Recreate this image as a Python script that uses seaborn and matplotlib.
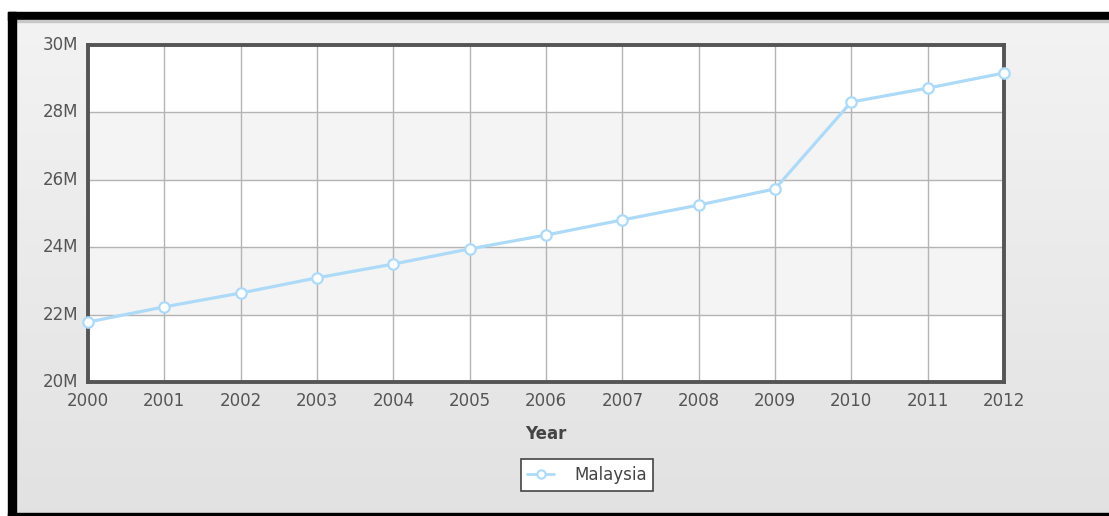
import numpy as np
import pandas as pd
import matplotlib
matplotlib.use("Agg")
import matplotlib.pyplot as plt
import seaborn as sns
from matplotlib.patches import Rectangle
from matplotlib.lines import Line2D

years = [2000, 2001, 2002, 2003, 2004, 2005, 2006, 2007, 2008, 2009, 2010, 2011, 2012]
population = [21.78e6, 22.23e6, 22.64e6, 23.09e6, 23.50e6, 23.95e6, 24.36e6,
              24.81e6, 25.25e6, 25.73e6, 28.31e6, 28.72e6, 29.17e6]
series_name = "Malaysia"
y_ticks = [20e6, 22e6, 24e6, 26e6, 28e6, 30e6]
y_tick_labels = ["20M", "22M", "24M", "26M", "28M", "30M"]

df = pd.DataFrame({"Year": years, "Population": population, "Country": series_name})

sns.set_theme(style="white")
plt.rcParams['font.family'] = ['DejaVu Sans']

W, H = 1109, 516
fig = plt.figure(figsize=(W / 100, H / 100), dpi=100)

# background gradient
bg = fig.add_axes([0, 0, 1, 1], zorder=-10)
grad = np.linspace(0.955, 0.885, 256).reshape(-1, 1)
bg.imshow(np.dstack([grad, grad, grad]), aspect="auto", extent=[0, 1, 0, 1],
          origin="upper")
bg.set_xlim(0, 1); bg.set_ylim(0, 1); bg.axis("off")

def px_rect(x0, y0, x1, y1, color):
    fig.patches.append(Rectangle((x0 / W, 1 - y1 / H), (x1 - x0) / W, (y1 - y0) / H,
                                 transform=fig.transFigure, color=color, zorder=-5))

px_rect(0, 0, W, 12, "white")
px_rect(0, 0, 8, H, "white")
px_rect(8, 12, W, 20, "black")
px_rect(16, 20, W, 21.5, "#c8c8c8")
px_rect(8, 12, 16, H, "black")
px_rect(8, 513, W, H, "black")

ax = fig.add_axes([88 / W, 1 - 382 / H, (1004 - 88) / W, (382 - 45) / H])
ax.set_facecolor("white")

# alternating bands
for i in range(len(y_ticks) - 1):
    if i % 2 == 1:
        ax.axhspan(y_ticks[i], y_ticks[i + 1], color="#f4f4f4", zorder=0, lw=0)

sns.lineplot(data=df, x="Year", y="Population", ax=ax, color="#addaf8", lw=2.3,
             marker="o", markersize=7.5, markerfacecolor="white",
             markeredgecolor="#addaf8", markeredgewidth=1.6, clip_on=False, zorder=5,
             legend=False)

ax.set_xlim(years[0], years[-1])
ax.set_ylim(y_ticks[0], y_ticks[-1])
ax.set_xticks(years)
ax.set_xticklabels([str(y) for y in years])
ax.set_yticks(y_ticks)
ax.set_yticklabels(y_tick_labels)
ax.grid(True, color="#b4b4b4", lw=1.0, zorder=1)
ax.set_axisbelow(True)
for s in ax.spines.values():
    s.set_visible(True)
    s.set_color("#555555")
    s.set_linewidth(2.8)
ax.tick_params(axis="both", length=0, labelsize=12, labelcolor="#555555")
ax.tick_params(axis="x", pad=7)
ax.tick_params(axis="y", pad=7)
for lbl in ax.get_yticklabels():
    lbl.set_verticalalignment("center")

ax.set_ylabel("")
ax.set_xlabel("Year", fontsize=12, fontweight="bold", color="#444444", labelpad=11)

handle = Line2D([0], [0], color="#addaf8", lw=2, marker="o", markersize=6,
                markerfacecolor="white", markeredgecolor="#addaf8", markeredgewidth=1.5)
leg = fig.legend([handle], [series_name], loc="center",
                 bbox_to_anchor=(587 / W, 1 - 475 / H), frameon=True, fancybox=False,
                 fontsize=12, handlelength=1.6, borderpad=0.4, handletextpad=1.2,
                 labelcolor="#444444")
leg.get_frame().set_edgecolor("#444444")
leg.get_frame().set_linewidth(1.2)
leg.get_frame().set_facecolor("white")
leg.get_frame().set_alpha(1)

fig.savefig("out.png", dpi=100)
